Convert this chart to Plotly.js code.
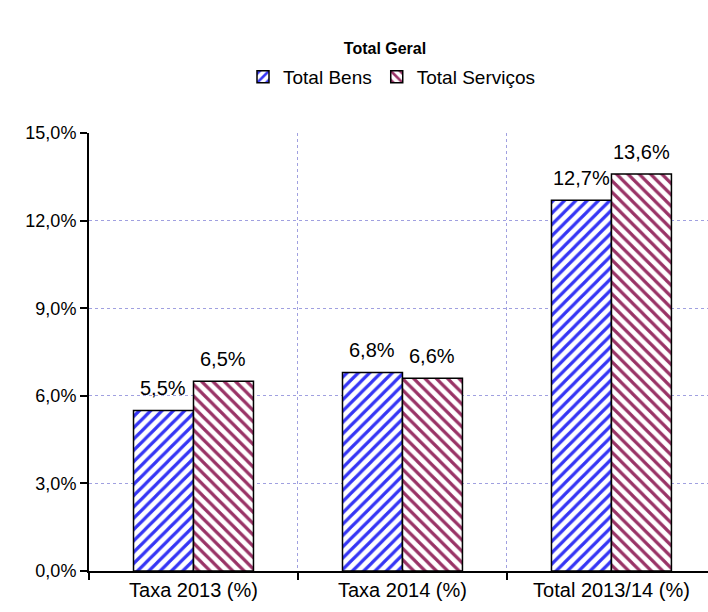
<!DOCTYPE html>
<html>
<head>
<meta charset="utf-8">
<script src="https://cdn.plot.ly/plotly-3.0.1.min.js"></script>
<style>html,body{margin:0;padding:0;background:#fff}#chart{width:708px;height:612px}</style>
</head>
<body>
<div id="chart"></div>
<script>
const categories = ["Taxa 2013 (%)", "Taxa 2014 (%)", "Total 2013/14 (%)"];
const seriesNames = ["Total Bens", "Total Serviços"];
const bens = [0.055, 0.068, 0.127];
const servicos = [0.065, 0.066, 0.136];
const yTicks = [0, 0.03, 0.06, 0.09, 0.12, 0.15];

const FONT = "Liberation Sans, Arial, sans-serif";

function fmt(v) { return (v * 100).toFixed(1).replace('.', ',') + '%'; }

const traces = [
  {
    type: 'bar', name: seriesNames[0], x: categories, y: bens,
    marker: { color: '#ffffff', line: { color: '#000000', width: 1.5 },
      pattern: { shape: '/', fgcolor: '#3535f5', bgcolor: '#ffffff', size: 8, solidity: 0.4 } },
    hoverinfo: 'none'
  },
  {
    type: 'bar', name: seriesNames[1], x: categories, y: servicos,
    marker: { color: '#ffffff', line: { color: '#000000', width: 1.5 },
      pattern: { shape: '\\', fgcolor: '#993366', bgcolor: '#ffffff', size: 8, solidity: 0.4 } },
    hoverinfo: 'none'
  }
];

const annotations = [];
[bens, servicos].forEach((vals, s) => {
  vals.forEach((v, i) => {
    annotations.push({
      x: categories[i], y: v, xref: 'x', yref: 'y', text: fmt(v), showarrow: false,
      xshift: s === 0 ? -30 : 30, yshift: 9, yanchor: 'bottom',
      font: { family: FONT, size: 20, color: '#000' }
    });
  });
});

const layout = {
  width: 708, height: 612,
  margin: { l: 89, r: 0, t: 133, b: 41 },
  paper_bgcolor: '#fff', plot_bgcolor: '#fff',
  separators: ',.',
  font: { family: FONT, size: 17, color: '#000' },
  title: { text: '<b>Total Geral</b>', x: 385 / 708, xanchor: 'center', y: 1 - 48 / 612, yanchor: 'middle',
    font: { family: FONT, size: 16, color: '#000' } },
  showlegend: true,
  legend: { orientation: 'h', xref: 'paper', yref: 'container', x: (392 - 89) / 619, xanchor: 'center',
    y: 1 - 58 / 612, yanchor: 'top', font: { family: FONT, size: 19 }, itemwidth: 30,
    traceorder: 'normal', bgcolor: 'rgba(0,0,0,0)' },
  barmode: 'group', bargap: 0.426, bargroupgap: 0,
  xaxis: {
    type: 'category', range: [-0.5, 2.462], tickson: 'boundaries',
    showgrid: true, gridcolor: '#a0a0e0', griddash: 'dot', gridwidth: 1,
    showline: true, linecolor: '#000', linewidth: 2,
    ticks: 'outside', ticklen: 7, tickwidth: 2, tickcolor: '#000',
    tickfont: { family: FONT, size: 20 }, fixedrange: true
  },
  yaxis: {
    range: [0, 0.15], tickvals: yTicks, tickformat: '.1%',
    showgrid: true, gridcolor: '#a0a0e0', griddash: 'dot', gridwidth: 1,
    zeroline: false, showline: true, linecolor: '#000', linewidth: 2,
    ticks: 'outside', ticklen: 7, tickwidth: 2, tickcolor: '#000',
    tickfont: { family: FONT, size: 18 }, fixedrange: true
  },
  annotations: annotations
};

Plotly.newPlot('chart', traces, layout, { displayModeBar: false, staticPlot: true });
</script>
</body>
</html>
